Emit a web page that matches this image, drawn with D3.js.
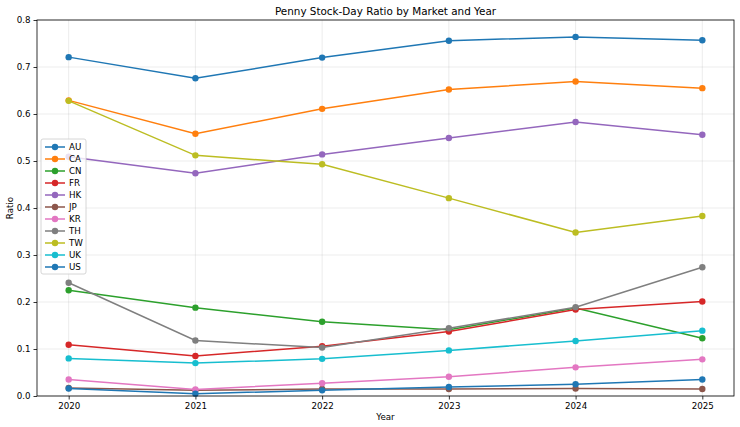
<!DOCTYPE html>
<html><head><meta charset="utf-8">
<script src="https://cdn.jsdelivr.net/npm/d3@7"></script>
<style>body{margin:0;background:#fff}svg{display:block;font-family:"DejaVu Sans",sans-serif}</style>
</head><body><svg id="c" width="740" height="427"></svg>
<script>
const years = [2020, 2021, 2022, 2023, 2024, 2025];
const markets = ["AU","CA","CN","FR","HK","JP","KR","TH","TW","UK","US"];
const AU = [0.721, 0.676, 0.720, 0.756, 0.764, 0.757];
const CA = [0.629, 0.558, 0.611, 0.652, 0.669, 0.655];
const CN = [0.225, 0.188, 0.158, 0.141, 0.187, 0.123];
const FR = [0.109, 0.085, 0.106, 0.137, 0.184, 0.201];
const HK = [0.509, 0.474, 0.514, 0.549, 0.583, 0.556];
const JP = [0.017, 0.012, 0.015, 0.015, 0.016, 0.015];
const KR = [0.035, 0.014, 0.027, 0.041, 0.061, 0.078];
const TH = [0.241, 0.118, 0.103, 0.144, 0.189, 0.274];
const TW = [0.628, 0.512, 0.493, 0.421, 0.348, 0.383];
const UK = [0.080, 0.070, 0.079, 0.097, 0.117, 0.139];
const US = [0.016, 0.005, 0.012, 0.019, 0.025, 0.035];
const seriesValues = [AU, CA, CN, FR, HK, JP, KR, TH, TW, UK, US];
const colors = ["#1f77b4","#ff7f0e","#2ca02c","#d62728","#9467bd","#8c564b","#e377c2","#7f7f7f","#bcbd22","#17becf","#1f77b4"];
const yTicks = [0.0, 0.1, 0.2, 0.3, 0.4, 0.5, 0.6, 0.7, 0.8];

const svg = d3.select("#c");
const L = 37, R = 734, T = 20, B = 396;
const x = d3.scaleLinear().domain([2019.75, 2025.25]).range([L, R]);
const y = d3.scaleLinear().domain([0, 0.8]).range([B, T]);
const FS = 8.7;

// grid
const g = svg.append("g");
g.selectAll(".gx").data(years).join("line")
  .attr("x1", d => x(d)).attr("x2", d => x(d)).attr("y1", T).attr("y2", B)
  .attr("stroke", "#b0b0b0").attr("stroke-opacity", 0.3).attr("stroke-width", 0.8);
g.selectAll(".gy").data(yTicks).join("line")
  .attr("x1", L).attr("x2", R).attr("y1", d => y(d)).attr("y2", d => y(d))
  .attr("stroke", "#b0b0b0").attr("stroke-opacity", 0.3).attr("stroke-width", 0.8);

// axes
const xa = svg.append("g").attr("transform", `translate(0,${B})`)
  .call(d3.axisBottom(x).tickValues(years).tickFormat(d3.format("d")).tickSize(3.5).tickPadding(3));
const ya = svg.append("g").attr("transform", `translate(${L},0)`)
  .call(d3.axisLeft(y).tickValues(yTicks).tickFormat(d3.format(".1f")).tickSize(3.5).tickPadding(3));
[xa, ya].forEach(a => {
  a.select(".domain").remove();
  a.selectAll("text").attr("font-size", FS).attr("fill", "#000").attr("font-family", "DejaVu Sans");
  a.selectAll("line").attr("stroke", "#000").attr("stroke-width", 0.8);
});

// lines
const line = d3.line().x((d, i) => x(years[i])).y(d => y(d));
markets.forEach((m, k) => {
  const vals = seriesValues[k];
  const s = svg.append("g");
  s.append("path").datum(vals).attr("d", line).attr("fill", "none")
    .attr("stroke", colors[k]).attr("stroke-width", 1.5);
  s.selectAll("circle").data(vals).join("circle")
    .attr("cx", (d, i) => x(years[i])).attr("cy", d => y(d)).attr("r", 3.2)
    .attr("fill", colors[k]);
});

// frame
svg.append("rect").attr("x", L).attr("y", T).attr("width", R - L).attr("height", B - T)
  .attr("fill", "none").attr("stroke", "#000").attr("stroke-width", 0.8);

// title & labels
svg.append("text").attr("x", (L + R) / 2).attr("y", 15).attr("text-anchor", "middle")
  .attr("font-size", 10.4).text("Penny Stock-Day Ratio by Market and Year");
svg.append("text").attr("x", (L + R) / 2).attr("y", 420).attr("text-anchor", "middle")
  .attr("font-size", FS).text("Year");
svg.append("text").attr("transform", `translate(13,${(T + B) / 2}) rotate(-90)`)
  .attr("text-anchor", "middle").attr("font-size", FS).text("Ratio");

// legend
const lg = svg.append("g").attr("transform", "translate(41,139)");
lg.append("rect").attr("width", 45).attr("height", 135).attr("rx", 2)
  .attr("fill", "#fff").attr("fill-opacity", 0.8).attr("stroke", "#ccc").attr("stroke-width", 0.8);
markets.forEach((m, k) => {
  const yy = 8 + k * 12;
  lg.append("line").attr("x1", 4).attr("x2", 24).attr("y1", yy).attr("y2", yy)
    .attr("stroke", colors[k]).attr("stroke-width", 1.5);
  lg.append("circle").attr("cx", 14).attr("cy", yy).attr("r", 3.2).attr("fill", colors[k]);
  lg.append("text").attr("x", 28).attr("y", yy + 3.2).attr("font-size", FS).text(m);
});
</script></body></html>
